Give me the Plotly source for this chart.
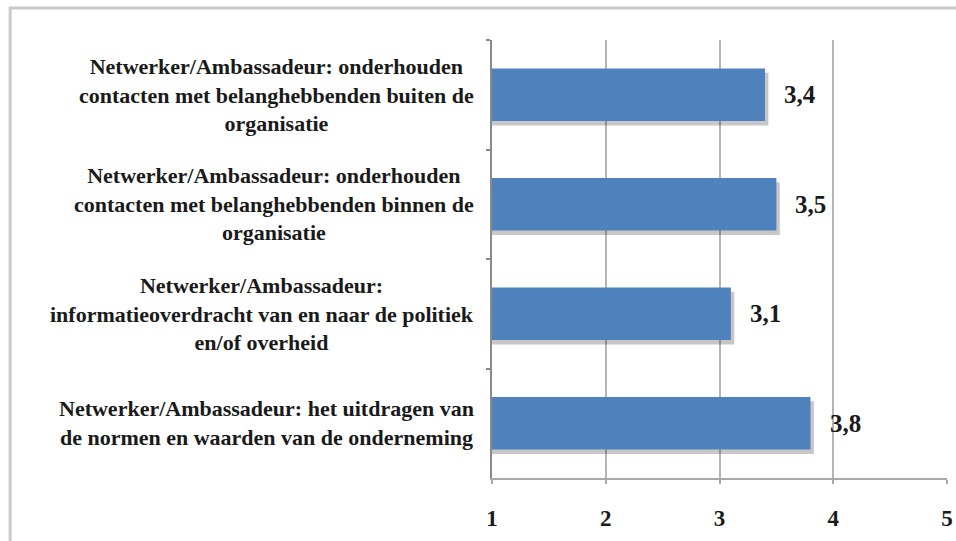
import plotly.graph_objects as go

categories = [
    "Netwerker/Ambassadeur: onderhouden<br>contacten met belanghebbenden buiten de<br>organisatie",
    "Netwerker/Ambassadeur: onderhouden<br>contacten met belanghebbenden binnen de<br>organisatie",
    "Netwerker/Ambassadeur:<br>informatieoverdracht van en naar de politiek<br>en/of overheid",
    "Netwerker/Ambassadeur: het uitdragen van<br>de normen en waarden van de onderneming",
]
scores = [3.4, 3.5, 3.1, 3.8]
tick_vals = [1, 2, 3, 4, 5]

FONT = "Liberation Serif"
BLUE = "#4F81BD"
BAR_W = 0.48

fig = go.Figure()

# soft drop shadow under each bar
fig.add_trace(go.Bar(
    y=categories, x=[v + 0.03 for v in scores], orientation="h",
    width=BAR_W, offset=-BAR_W / 2 + 0.04,
    marker=dict(color="rgba(0,0,0,0.22)", line=dict(width=0)),
    hoverinfo="skip", showlegend=False,
))
fig.add_trace(go.Bar(
    y=categories, x=scores, orientation="h",
    width=BAR_W, offset=-BAR_W / 2,
    marker=dict(color=BLUE, line=dict(width=0)),
    showlegend=False,
))

# value labels
for cat, v in zip(categories, scores):
    fig.add_annotation(
        x=v, y=cat, text="<b>%s</b>" % f"{v:.1f}".replace(".", ","),
        xanchor="left", xshift=17, showarrow=False,
        font=dict(family=FONT, size=25, color="#1a1a1a"),
    )

# category labels, centred block to the left of the axis
for cat in categories:
    fig.add_annotation(
        x=0, xref="paper", y=cat, text="<b>%s</b>" % cat,
        xanchor="right", xshift=-16, align="center", showarrow=False,
        font=dict(family=FONT, size=22, color="#1a1a1a"),
    )

# outer grey frame of the original figure
fig.add_shape(type="rect", xref="paper", yref="paper",
              x0=-1.059, x1=1.2, y0=-0.3, y1=1.073,
              line=dict(color="#c9c9c9", width=3), layer="below")

fig.update_layout(
    width=956, height=541,
    margin=dict(l=492, r=9, t=40, b=63, autoexpand=False),
    barmode="overlay",
    plot_bgcolor="white", paper_bgcolor="white",
    font=dict(family=FONT, size=20, color="#1a1a1a"),
    xaxis=dict(
        range=[1, 5], tickvals=tick_vals,
        tickfont=dict(family=FONT, size=23, color="#1a1a1a"),
        ticktext=["<b>%d</b>" % t for t in tick_vals],
        ticklabelstandoff=14, ticklabeloverflow="allow",
        automargin=False,
        showgrid=True, gridcolor="#b5b5b5", gridwidth=2,
        showline=True, linecolor="#a8a8a8", linewidth=2,
        ticks="outside", ticklen=4, tickcolor="#a8a8a8", tickwidth=2,
        zeroline=False, fixedrange=True,
    ),
    yaxis=dict(
        autorange="reversed", showticklabels=False,
        showline=True, linecolor="#8a8a8a", linewidth=2,
        ticks="outside", tickson="boundaries", ticklen=4,
        tickcolor="#8a8a8a", tickwidth=2, showgrid=False,
        fixedrange=True,
    ),
)

# drop the default page margin so the figure fills the window exactly
fig.write_html("out.html", config={"displayModeBar": False},
               post_script="document.body.style.margin = '0';")
